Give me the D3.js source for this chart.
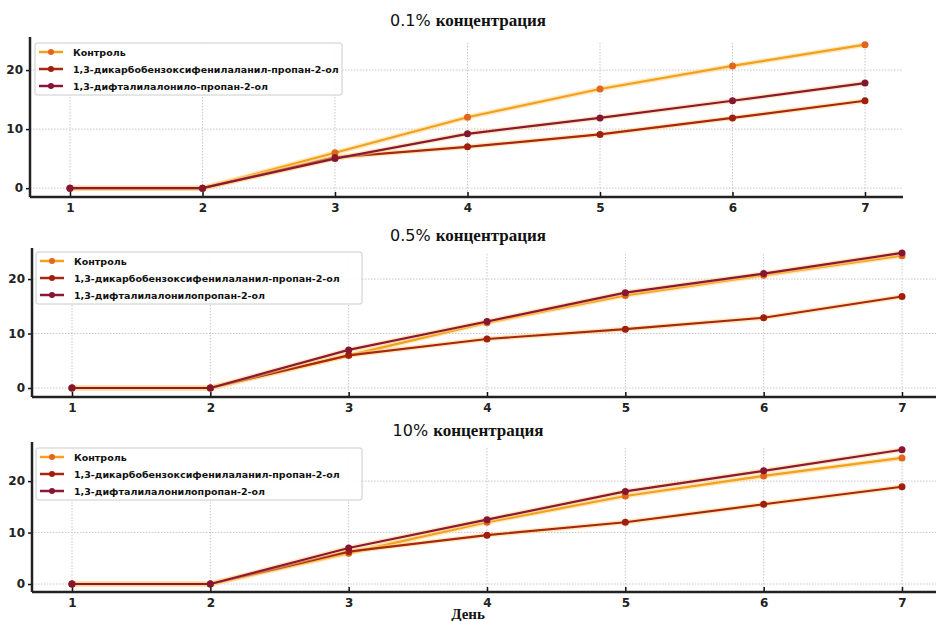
<!DOCTYPE html>
<html lang="ru">
<head>
<meta charset="UTF-8">
<title>концентрация</title>
<script src="https://cdn.jsdelivr.net/npm/d3@7"></script>
<style>
  body { margin: 0; background: #fff; }
  svg { display: block; }
  .tick text { font-family: "DejaVu Sans", sans-serif; font-weight: bold; font-size: 12px; fill: #222; }
  .legend text { font-family: "DejaVu Sans", sans-serif; font-weight: bold; font-size: 9.5px; fill: #111; }
</style>
</head>
<body>
<svg id="chart" width="936" height="621"></svg>
<script>
var days = [1, 2, 3, 4, 5, 6, 7];
var yTicks = [0, 10, 20];

var titles = ["0.1%", "0.5%", "10%"];
var seriesNames = [
  ["Контроль", "1,3-дикарбобензоксифенилаланил-пропан-2-ол", "1,3-дифталилалонило-пропан-2-ол"],
  ["Контроль", "1,3-дикарбобензоксифенилаланил-пропан-2-ол", "1,3-дифталилалонилопропан-2-ол"],
  ["Контроль", "1,3-дикарбобензоксифенилаланил-пропан-2-ол", "1,3-дифталилалонилопропан-2-ол"]
];

// 0.1%
var control01 = [0, 0, 6, 12, 16.8, 20.7, 24.3];
var dicarbo01 = [0, 0, 5.2, 7, 9.1, 11.9, 14.8];
var diftal01  = [0, 0, 5, 9.2, 11.9, 14.8, 17.8];
// 0.5%
var control05 = [0, 0, 6, 12, 17, 20.7, 24.3];
var dicarbo05 = [0, 0, 6, 9, 10.8, 12.9, 16.8];
var diftal05  = [0, 0, 7, 12.2, 17.5, 21, 24.8];
// 10%
var control10 = [0, 0, 6, 12, 17.1, 21, 24.5];
var dicarbo10 = [0, 0, 6.3, 9.5, 12, 15.5, 18.9];
var diftal10  = [0, 0, 7, 12.5, 18, 22, 26.1];

var panelData = [
  [control01, dicarbo01, diftal01],
  [control05, dicarbo05, diftal05],
  [control10, dicarbo10, diftal10]
];

var lineColors = ["#f2a01e", "#a8280f", "#8c1838"];
var markColors = ["#e0661a", "#a01e0c", "#851530"];

// layout of each panel in pixels
var panels = [
  {top: 37, bottom: 197, left: 30, right: 903, x1: 70, x7: 865, yMin: -1.5, yMax: 25.6, title: 26, leg: {x: 35, y: 43, w: 307}},
  {top: 248, bottom: 397, left: 32, right: 936, x1: 72, x7: 902, yMin: -1.65, yMax: 25.7, title: 241, leg: {x: 36, y: 252, w: 326}},
  {top: 442, bottom: 592, left: 32, right: 936, x1: 72, x7: 902, yMin: -1.55, yMax: 27.6, title: 436, leg: {x: 36, y: 448, w: 326}}
];

var svg = d3.select("#chart");

panels.forEach(function(p, i) {
  var x = d3.scaleLinear().domain([1, 7]).range([p.x1, p.x7]);
  var y = d3.scaleLinear().domain([p.yMin, p.yMax]).range([p.bottom, p.top]);
  var g = svg.append("g");

  // grid
  g.selectAll(".vgrid").data(days).enter().append("line")
    .attr("x1", d => x(d)).attr("x2", d => x(d))
    .attr("y1", p.top + 6).attr("y2", p.bottom)
    .attr("stroke", "#c8c8c8").attr("stroke-width", 1).attr("stroke-dasharray", "1.5,1.5");
  g.selectAll(".hgrid").data(yTicks).enter().append("line")
    .attr("x1", p.left).attr("x2", p.right)
    .attr("y1", d => y(d)).attr("y2", d => y(d))
    .attr("stroke", "#c8c8c8").attr("stroke-width", 1).attr("stroke-dasharray", "1.5,1.5");

  // axes
  var xAxis = d3.axisBottom(x).tickValues(days).tickSize(-5).tickPadding(6).tickFormat(d3.format("d"));
  var xg = g.append("g").attr("transform", "translate(0," + p.bottom + ")").call(xAxis);
  xg.select(".domain").remove();
  xg.selectAll(".tick line").attr("stroke", "#111").attr("stroke-width", 1.5);
  g.append("line").attr("x1", p.left).attr("x2", p.right).attr("y1", p.bottom).attr("y2", p.bottom)
    .attr("stroke", "#222").attr("stroke-width", 2.5);

  var yAxis = d3.axisLeft(y).tickValues(yTicks).tickSize(4).tickPadding(3);
  var yg = g.append("g").attr("transform", "translate(" + p.left + ",0)").call(yAxis);
  yg.select(".domain").remove();
  yg.selectAll(".tick line").attr("stroke", "#111").attr("stroke-width", 1.5);
  g.append("line").attr("x1", p.left).attr("x2", p.left).attr("y1", p.top).attr("y2", p.bottom)
    .attr("stroke", "#222").attr("stroke-width", 2.5);

  // lines
  var line = d3.line().x((d, k) => x(days[k])).y(d => y(d));
  panelData[i].forEach(function(vals, s) {
    g.append("path").datum(vals).attr("d", line)
      .attr("fill", "none").attr("stroke", "#ffd27a").attr("stroke-opacity", 0.5).attr("stroke-width", 5);
    g.append("path").datum(vals).attr("d", line)
      .attr("fill", "none").attr("stroke", lineColors[s]).attr("stroke-width", 2.2);
    g.selectAll(".pt" + s).data(vals).enter().append("circle")
      .attr("cx", (d, k) => x(days[k])).attr("cy", d => y(d)).attr("r", 3.5)
      .attr("fill", markColors[s]);
  });

  // title
  var t = svg.append("text").attr("x", 468).attr("y", p.title).attr("text-anchor", "middle")
    .attr("fill", "#111");
  t.append("tspan").attr("font-family", "DejaVu Sans, sans-serif").attr("font-size", 16).text(titles[i] + "  ");
  t.append("tspan").attr("font-family", "Liberation Serif, serif").attr("font-weight", "bold").attr("font-size", 17).text("концентрация");

  // legend
  var lg = g.append("g").attr("class", "legend").attr("transform", "translate(" + p.leg.x + "," + p.leg.y + ")");
  lg.append("rect").attr("width", p.leg.w).attr("height", 52).attr("rx", 2)
    .attr("fill", "#fff").attr("fill-opacity", 0.9).attr("stroke", "#ccc");
  seriesNames[i].forEach(function(name, s) {
    var ry = 9 + s * 17;
    lg.append("line").attr("x1", 4).attr("x2", 28).attr("y1", ry).attr("y2", ry)
      .attr("stroke", lineColors[s]).attr("stroke-width", 2.5);
    lg.append("circle").attr("cx", 16).attr("cy", ry).attr("r", 3).attr("fill", markColors[s]);
    lg.append("text").attr("x", 38).attr("y", ry + 3.5).text(name);
  });
});

svg.append("text").attr("x", 468).attr("y", 619).attr("text-anchor", "middle")
  .attr("font-family", "Liberation Serif, serif").attr("font-weight", "bold").attr("font-size", 15)
  .attr("fill", "#111").text("День");
</script>
</body>
</html>
